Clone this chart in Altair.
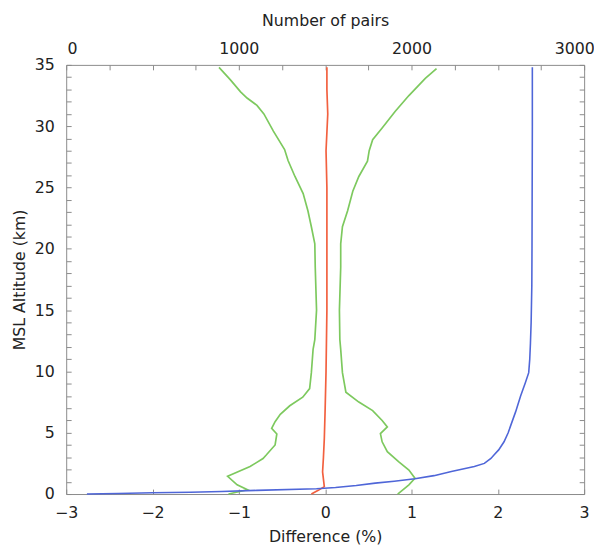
import altair as alt
import pandas as pd

# ---- data ----
lower_alt = [0.0, 0.35, 0.75, 1.45, 2.24, 2.9, 3.2, 4.0, 4.9, 5.35, 5.9, 6.5, 7.2, 7.9, 8.6,
             9.9, 11.8, 12.6, 15.0, 18.5, 20.4, 21.8, 23.1, 24.5, 25.9, 27.2, 28.1, 29.6,
             31.0, 31.7, 32.3, 32.8, 33.8, 34.8]
lower_val = [-1.12, -0.90, -1.02, -1.13, -0.87, -0.72, -0.68, -0.58, -0.56, -0.62, -0.58, -0.52,
             -0.41, -0.26, -0.18, -0.16, -0.14, -0.12, -0.10, -0.115, -0.12, -0.16, -0.20,
             -0.255, -0.35, -0.43, -0.47, -0.60, -0.71, -0.79, -0.905, -0.98, -1.10, -1.23]

upper_alt = [0.0, 0.75, 1.29, 1.96, 2.64, 3.45, 4.26, 4.93, 5.47, 6.0, 6.8, 7.5, 8.3, 9.9,
             11.8, 12.6, 15.0, 18.5, 20.4, 21.8, 23.1, 24.7, 25.9, 27.15, 28.0, 28.9, 29.85,
             31.2, 32.5, 33.9, 34.7]
upper_val = [0.84, 0.97, 1.04, 0.97, 0.85, 0.72, 0.66, 0.64, 0.72, 0.66, 0.55, 0.39, 0.24, 0.20,
             0.18, 0.17, 0.165, 0.18, 0.18, 0.20, 0.26, 0.32, 0.39, 0.49, 0.51, 0.55, 0.66,
             0.81, 0.97, 1.16, 1.29]

mean_alt = [0.0, 0.3, 0.6, 1.8, 3.0, 4.5, 7.0, 10.0, 15.0, 20.0, 25.0, 28.0, 31.0, 33.0, 34.8]
mean_val = [-0.16, -0.08, -0.01, -0.03, -0.02, -0.01, 0.0, 0.01, 0.02, 0.02, 0.02, 0.01, 0.03,
            0.02, 0.02]

pairs_alt = [0.0, 0.05, 0.1, 0.14, 0.2, 0.3, 0.43, 0.54, 0.7, 0.89, 1.05, 1.24, 1.5, 1.83,
             2.24, 2.5, 2.9, 3.2, 3.6, 4.26, 5.0, 5.6, 6.7, 8.0, 9.1, 9.9, 11.0, 12.3, 14.0,
             17.0, 20.0, 25.0, 30.0, 34.8]
pairs_val = [120, 300, 500, 720, 900, 1105, 1450, 1560, 1680, 1790, 1900, 2020, 2130, 2231,
             2364, 2422, 2460, 2479, 2505, 2536, 2560, 2575, 2603, 2632, 2660, 2679, 2685,
             2689, 2693, 2697, 2698, 2699, 2700, 2700]

diff_ticks = [-3, -2.5, -2, -1.5, -1, -0.5, 0, 0.5, 1, 1.5, 2, 2.5, 3]
pairs_ticks = list(range(0, 3001, 250))
alt_ticks = list(range(0, 36))

# ---- tables ----
df_green = pd.concat([
    pd.DataFrame({"alt": lower_alt, "diff": lower_val, "side": "lower"}),
    pd.DataFrame({"alt": upper_alt, "diff": upper_val, "side": "upper"}),
])
df_mean = pd.DataFrame({"alt": mean_alt, "diff": mean_val})
df_pairs = pd.DataFrame({"alt": pairs_alt, "pairs": pairs_val})

FONT = "DejaVu Sans"
TXT = "#222222"
FRAME = "#8a8a8a"
BLUE = "#4f66d8"
GREEN = "#7dc95e"
RED = "#f2603f"

common = dict(labelFont=FONT, titleFont=FONT, labelFontSize=16, titleFontSize=16,
              titleFontWeight="normal", labelColor=TXT, titleColor=TXT, tickColor=FRAME,
              tickSize=5, offset=-5, domain=False, grid=False, labelOverlap=False,
              labelFlush=False)

x_diff = alt.X("diff:Q",
               scale=alt.Scale(domain=[-3, 3], nice=False, zero=False),
               axis=alt.Axis(orient="bottom", values=diff_ticks, format="d",
                             labelExpr="datum.value % 1 == 0 ? datum.label : ''",
                             title="Difference (%)", labelPadding=11, titlePadding=8,
                             **common))
y_left = alt.Y("alt:Q",
               scale=alt.Scale(domain=[0, 35], nice=False, zero=False),
               axis=alt.Axis(orient="left", values=alt_ticks,
                             labelExpr="datum.value % 5 == 0 ? datum.label : ''",
                             title="MSL Altitude (km)", labelPadding=12, titlePadding=7,
                             **common))

red = alt.Chart(df_mean).mark_line(color=RED, strokeWidth=1.7).encode(
    x=x_diff, y=y_left, order=alt.Order("alt:Q"))
green = alt.Chart(df_green).mark_line(color=GREEN, strokeWidth=1.7).encode(
    x=x_diff, y=y_left, detail="side:N", order=alt.Order("alt:Q"))

inner = alt.layer(green, red)

blue = alt.Chart(df_pairs).mark_line(color=BLUE, strokeWidth=1.6).encode(
    x=alt.X("pairs:Q",
            scale=alt.Scale(domain=[0, 3000], nice=False, zero=False),
            axis=alt.Axis(orient="top", values=pairs_ticks, format="d",
                          labelExpr="datum.value % 1000 == 0 ? datum.label : ''",
                          labelOffset={"condition": [{"test": "datum.value == 0", "value": 6},
                                                     {"test": "datum.value == 3000", "value": -10}],
                                       "value": 0},
                          title="Number of pairs", labelPadding=9, titlePadding=12,
                          **common)),
    y=alt.Y("alt:Q",
            scale=alt.Scale(domain=[0, 35], nice=False, zero=False),
            axis=alt.Axis(orient="right", values=alt_ticks, labels=False, title=None,
                          tickColor=FRAME, tickSize=5, offset=-5, domain=False, grid=False)),
    order=alt.Order("alt:Q"),
)

chart = alt.layer(inner, blue).resolve_scale(x="independent", y="independent").properties(
    width=525, height=435,
    autosize=alt.AutoSizeParams(type="none"),
    padding={"left": 59, "top": 54, "right": 10, "bottom": 49},
    background="white",
).configure_view(stroke=FRAME, strokeWidth=1)

chart.save("out.html", embed_options={"renderer": "svg", "actions": False})
